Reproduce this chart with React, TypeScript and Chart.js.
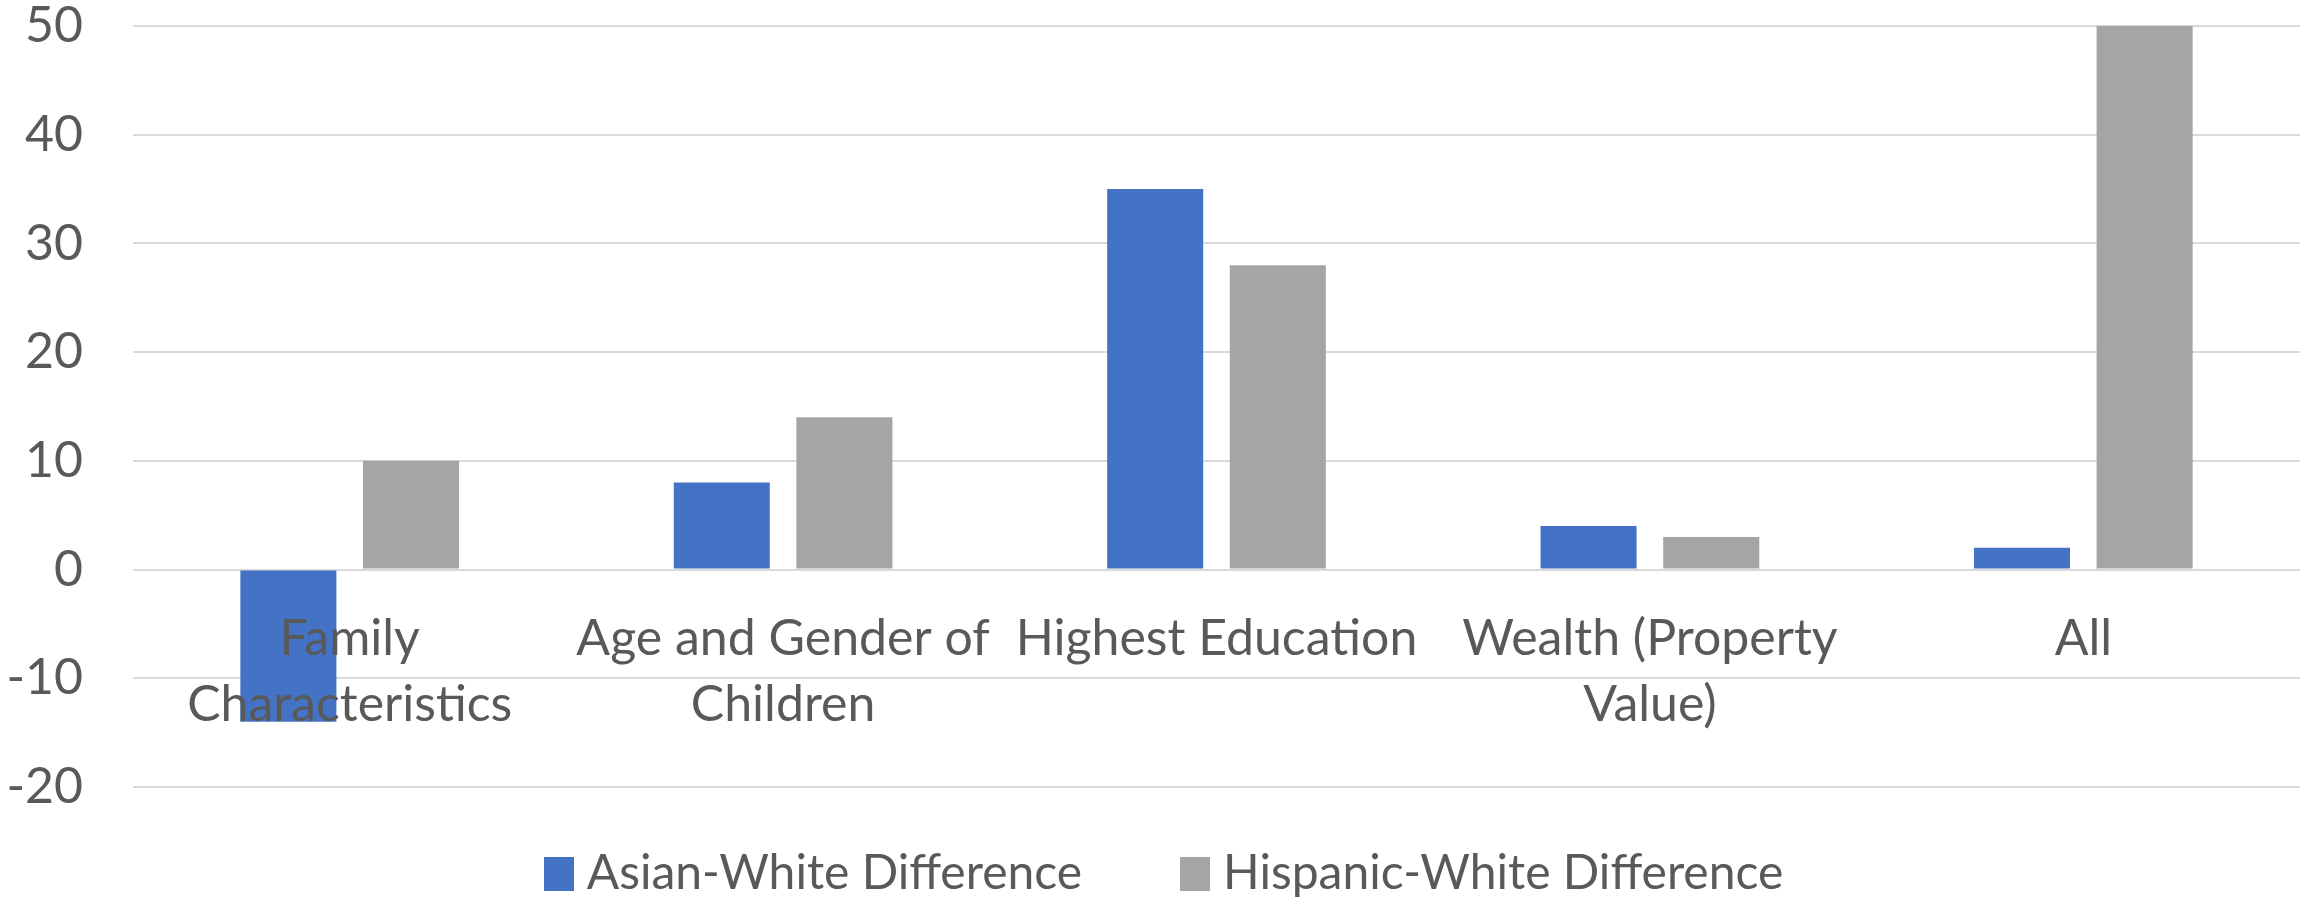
import React, { useEffect, useRef } from "react";
import { Chart, registerables } from "chart.js";

Chart.register(...registerables);

// Category labels (multi-line where the axis wraps them)
const categories: string[][] = [
  ["Family", "Characteristics"],
  ["Age and Gender of", "Children"],
  ["Highest Education"],
  ["Wealth (Property", "Value)"],
  ["All"],
];

const seriesNames = ["Asian-White Difference", "Hispanic-White Difference"];
const asianWhite = [-14, 8, 35, 4, 2];
const hispanicWhite = [10, 14, 28, 3, 50];

const yMin = -20;
const yMax = 50;
const yStep = 10;

const BLUE = "#4472C4";
const GRAY = "#A5A5A5";
const TEXT = "#595959";
const GRID = "#D9D9D9";
const CLEAR = "rgba(0,0,0,0)";
const FONT = "Lato, 'Noto Sans', sans-serif";

// Legend drawn under the plot: square swatch, tight label, wide gap between entries.
const bottomLegend = {
  id: "bottomLegend",
  afterDraw(chart: any) {
    const { ctx, chartArea } = chart;
    const swatchW = 30;
    const swatchH = 34;
    const textGap = 13;
    const entryGap = 98;
    ctx.save();
    ctx.font = `48px ${FONT}`;
    const entries = chart.data.datasets.map((ds: any) => ({
      text: String(ds.label),
      color: ds.backgroundColor as string,
    }));
    const widths = entries.map((e: any) => swatchW + textGap + ctx.measureText(e.text).width);
    const total = widths.reduce((a: number, b: number) => a + b, 0) + entryGap * (entries.length - 1);
    let x = chart.width / 2 + 6 - total / 2;
    const cy = chartArea.bottom + 87;
    entries.forEach((e: any, i: number) => {
      ctx.fillStyle = e.color;
      ctx.fillRect(Math.round(x), Math.round(cy - swatchH / 2), swatchW, swatchH);
      ctx.fillStyle = TEXT;
      ctx.textAlign = "left";
      ctx.textBaseline = "middle";
      ctx.fillText(e.text, x + swatchW + textGap, cy);
      x += widths[i] + entryGap;
    });
    ctx.restore();
  },
};

export default function App() {
  const canvasRef = useRef<HTMLCanvasElement | null>(null);

  useEffect(() => {
    document.body.style.margin = "0";
    const canvas = canvasRef.current;
    if (!canvas) return;
    const chart = new Chart(canvas, {
      type: "bar",
      data: {
        labels: categories,
        datasets: [
          {
            label: seriesNames[0],
            data: asianWhite,
            backgroundColor: BLUE,
            borderWidth: 0,
            categoryPercentage: 0.566,
            barPercentage: 0.783,
          },
          {
            label: seriesNames[1],
            data: hispanicWhite,
            backgroundColor: GRAY,
            borderWidth: 0,
            categoryPercentage: 0.566,
            barPercentage: 0.783,
          },
        ],
      },
      options: {
        responsive: false,
        animation: false,
        layout: { padding: { left: 0, right: 15, top: 26, bottom: 113 } },
        plugins: {
          tooltip: { enabled: false },
          legend: { display: false },
        },
        scales: {
          x: {
            position: { y: 0 },
            grid: { display: true, color: CLEAR, drawOnChartArea: false, drawTicks: true, tickLength: 36, tickColor: CLEAR },
            border: { display: false },
            ticks: {
              z: 1,
              color: TEXT,
              font: { family: FONT, size: 50, lineHeight: 1.33 },
              padding: 0,
              maxRotation: 0,
              autoSkip: false,
            },
          },
          y: {
            min: yMin,
            max: yMax,
            grid: { color: GRID, lineWidth: 2, drawTicks: true, tickLength: 50, tickColor: CLEAR },
            border: { display: false },
            ticks: {
              stepSize: yStep,
              color: TEXT,
              font: { family: FONT, size: 50, lineHeight: 1.0 },
              padding: 0,
            },
            afterFit: (scale: any) => {
              scale.width = 133;
            },
          },
        },
      },
      plugins: [bottomLegend],
    });
    return () => chart.destroy();
  }, []);

  return (
    <div style={{ position: "absolute", left: 0, top: 0, width: 2315, height: 900, background: "#fff" }}>
      <canvas ref={canvasRef} width={2315} height={900} style={{ display: "block" }} />
    </div>
  );
}
